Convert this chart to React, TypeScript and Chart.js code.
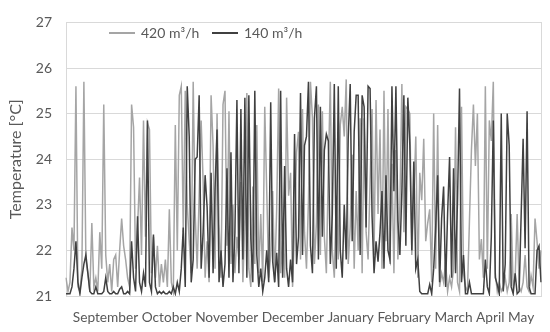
import React, { useEffect, useRef } from "react";
import { Chart, registerables } from "chart.js";

Chart.register(...registerables);

// Series: measured room temperature, Sept–May, sampled index by index
const flow420: number[] = [
  21.4, 21.1, 21.3, 22.5, 22.0, 25.6, 21.2, 21.1, 21.6, 25.7,
  21.8, 21.5, 21.1, 22.6, 21.2, 21.4, 21.1, 22.4, 21.6, 25.2,
  21.9, 21.3, 21.7, 21.1, 21.8, 21.9, 21.2, 22.0, 22.7, 22.1,
  21.8, 21.4, 21.2, 25.2, 24.7, 21.6, 22.5, 23.6, 21.9, 24.85,
  22.3, 24.8, 24.65, 21.5, 22.3, 21.4, 22.1, 21.2, 21.7, 21.3,
  21.8, 21.2, 22.9, 21.3, 21.1, 24.75, 22.0, 25.4, 25.6, 22.4,
  25.5, 23.0, 22.2, 21.5, 25.7, 22.8, 21.6, 23.2, 24.85, 23.5,
  21.4, 22.2, 21.3, 25.4, 24.3, 21.6, 25.0, 22.6, 21.4, 25.2,
  25.5, 22.1, 25.05, 21.7, 23.0, 21.5, 22.3, 21.8, 23.5, 21.3,
  22.7, 25.45, 21.6, 21.2, 23.4, 21.7, 24.75, 21.5, 22.8, 21.3,
  25.15, 23.3, 21.4, 21.9, 23.3, 21.3, 22.9, 25.55, 21.5, 22.2,
  21.4, 25.35, 23.2, 23.7, 21.2, 22.5, 24.15, 24.6, 21.8, 25.1,
  22.4, 21.6, 23.1, 25.7, 24.9, 21.7, 22.6, 25.2, 21.9, 25.05,
  22.3, 21.5, 23.8, 25.7, 22.0, 21.4, 23.2, 21.8, 24.75, 25.15,
  24.5, 25.75, 21.7, 22.5, 24.1, 21.6, 23.3, 22.0, 24.9, 21.5,
  24.9, 22.4, 21.8, 23.5, 25.1, 21.9, 25.3, 22.8, 24.65, 21.6,
  25.5, 22.2, 25.1, 21.7, 23.9, 21.5, 24.2, 21.8, 23.0, 25.65,
  22.4, 25.15, 25.1, 25.0, 21.9, 23.1, 24.5, 21.4, 23.7, 23.1,
  24.45, 22.2, 22.6, 22.9, 21.3, 25.0, 21.6, 24.75, 21.2, 21.5,
  21.3, 21.75, 21.1, 21.4, 21.2, 21.6, 24.7, 21.3, 21.1, 25.15,
  21.5, 21.2, 21.1, 22.65, 24.2, 25.2, 23.85, 25.0, 21.8, 22.25,
  21.4, 25.6, 21.6, 24.85, 24.4, 25.7, 21.5, 21.1, 21.3, 21.1,
  21.2, 21.4, 21.1, 21.3, 22.8, 21.2, 21.4, 22.8, 21.2, 21.1,
  21.3, 21.9, 21.2, 21.1, 21.45, 21.2, 22.7, 22.2, 21.6, 22.0,
];

const flow140: number[] = [
  21.05, 21.05, 21.05, 21.2, 21.6, 22.2, 21.3, 21.05, 21.4, 21.7,
  21.9, 21.5, 21.1, 21.05, 21.05, 21.2, 21.05, 21.05, 21.05, 21.1,
  21.4, 21.1, 21.05, 21.05, 21.1, 21.05, 21.05, 21.15, 21.2, 21.05,
  21.05, 21.1, 21.05, 22.2, 21.4, 21.1, 22.75, 21.3, 21.1, 21.5,
  21.2, 24.85, 21.3, 21.1, 22.35, 21.2, 21.05, 21.1, 21.05, 21.1,
  21.05, 21.05, 21.1, 21.05, 21.2, 21.05, 21.3, 21.1, 21.6, 22.5,
  21.2, 25.6, 24.5, 21.3, 21.8, 24.0, 24.05, 25.4, 21.6, 22.4,
  23.65, 22.95, 21.4, 23.7, 21.5, 23.35, 24.65, 21.3, 22.0, 21.2,
  21.7, 23.8, 21.4, 24.15, 21.3, 22.4, 25.3, 21.5, 25.1, 21.8,
  25.35, 21.4, 25.4, 22.25, 21.3, 25.5, 21.9, 21.2, 21.6, 21.1,
  21.4, 22.0, 21.3, 25.25, 21.75, 21.3, 21.95, 21.2, 25.5, 21.4,
  23.85, 21.6, 21.2, 21.8, 21.3, 24.55, 21.7, 22.3, 25.45, 21.9,
  24.3, 24.5, 25.7, 22.1, 21.5, 24.9, 25.6, 21.8, 25.15, 22.3,
  24.2, 24.55, 24.4, 21.7, 22.8, 25.65, 21.6, 25.6, 22.0, 21.4,
  23.0, 21.8, 24.45, 25.65, 22.2, 24.6, 25.4, 25.4, 21.9, 25.4,
  25.15, 22.5, 25.6, 25.55, 22.75, 21.5, 22.2, 21.75, 22.4, 23.3,
  21.6, 23.65, 22.0, 21.8, 25.6, 23.3, 25.6, 22.65, 21.9, 23.3,
  25.4, 22.1, 25.35, 24.3, 22.0, 23.95, 21.6, 21.8, 21.1, 21.05,
  21.05, 21.05, 21.05, 21.25, 21.05, 21.6, 22.5, 23.65, 21.3, 22.7,
  23.4, 21.2, 22.8, 24.05, 21.4, 23.8, 21.5, 23.1, 25.55, 21.3,
  21.9, 21.05, 21.05, 21.3, 21.05, 21.05, 21.05, 21.05, 21.05, 21.05,
  21.05, 21.8, 21.2, 21.05, 22.3, 24.85, 21.4, 21.25, 21.05, 25.0,
  21.1, 21.7, 25.0, 24.3, 21.2, 21.05, 21.5, 21.05, 21.1, 22.75,
  24.45, 22.05, 25.05, 21.2, 21.05, 21.05, 21.05, 22.0, 22.1, 21.3,
];

const seriesNames: string[] = ["420 m³/h", "140 m³/h"];
const monthLabels: string[] = [
  "September", "October", "November", "December", "January",
  "February", "March", "April", "May",
];
const yTicks: number[] = [21, 22, 23, 24, 25, 26, 27];

const GRAY = "#A5A5A5";
const DARK = "#404040";
const TEXT = "#595959";
const FONT = "Lato, 'Open Sans', sans-serif";

const frameAndLegend = {
  id: "frameAndLegend",
  beforeDatasetsDraw(chart: any) {
    const { ctx, chartArea } = chart;
    ctx.save();
    ctx.strokeStyle = "#D9D9D9";
    ctx.lineWidth = 1;
    ctx.strokeRect(
      Math.round(chartArea.left) + 0.5,
      Math.round(chartArea.top) + 0.5,
      Math.round(chartArea.right - chartArea.left),
      Math.round(chartArea.bottom - chartArea.top)
    );
    ctx.restore();
  },
  afterDraw(chart: any) {
    const { ctx } = chart;
    const ds = chart.data.datasets;
    const items = [
      { x: 109, color: ds[0].borderColor, label: ds[0].label },
      { x: 212, color: ds[1].borderColor, label: ds[1].label },
    ];
    const y = 33;
    ctx.save();
    ctx.font = `14px ${FONT}`;
    ctx.textBaseline = "middle";
    ctx.fillStyle = TEXT;
    for (const it of items) {
      ctx.strokeStyle = it.color;
      ctx.lineWidth = 2;
      ctx.beginPath();
      ctx.moveTo(it.x, y);
      ctx.lineTo(it.x + 26, y);
      ctx.stroke();
      ctx.fillText(it.label, it.x + 32, y);
    }
    ctx.restore();
  },
};

export default function App() {
  const ref = useRef<HTMLCanvasElement | null>(null);

  useEffect(() => {
    if (!ref.current) return;
    const labels = flow420.map((_, i) => String(i));
    const chart = new Chart(ref.current, {
      type: "line",
      data: {
        labels,
        datasets: [
          {
            label: seriesNames[0],
            data: flow420,
            borderColor: GRAY,
            backgroundColor: GRAY,
            borderWidth: 1.5,
            pointRadius: 0,
            tension: 0,
            order: 1,
          },
          {
            label: seriesNames[1],
            data: flow140,
            borderColor: DARK,
            backgroundColor: DARK,
            borderWidth: 1.5,
            pointRadius: 0,
            tension: 0,
            order: 0,
          },
        ],
      },
      options: {
        animation: false,
        responsive: true,
        maintainAspectRatio: false,
        layout: { padding: { left: 0, right: 9, top: 11, bottom: 0 } },
        plugins: {
          legend: { display: false },
          tooltip: { enabled: false },
        },
        scales: {
          x: {
            type: "category",
            offset: false,
            grid: { display: false, drawTicks: false },
            border: { display: false },
            ticks: { display: false },
            title: {
              display: true,
              text: monthLabels.join(" "),
              color: TEXT,
              font: { family: FONT, size: 13.7 },
              padding: { top: 0, bottom: 6 },
            },
            afterFit: (scale: any) => {
              scale.height = 36;
            },
          },
          y: {
            min: yTicks[0],
            max: yTicks[yTicks.length - 1],
            afterBuildTicks: (scale: any) => {
              scale.ticks = yTicks.map((v) => ({ value: v }));
            },
            grid: { color: "#D9D9D9", drawTicks: false },
            border: { display: false },
            ticks: {
              color: TEXT,
              font: { family: FONT, size: 14 },
              padding: 14,
            },
            title: {
              display: true,
              text: "Temperature [°C]",
              color: TEXT,
              font: { family: FONT, size: 16 },
              padding: { top: 6, bottom: 0 },
            },
            afterFit: (scale: any) => {
              scale.width = 66;
            },
          },
        },
      },
      plugins: [frameAndLegend],
    });
    return () => chart.destroy();
  }, []);

  return (
    <div style={{ position: "fixed", left: 0, top: 0, width: 550, height: 332, background: "#fff" }}>
      <canvas ref={ref} />
    </div>
  );
}
